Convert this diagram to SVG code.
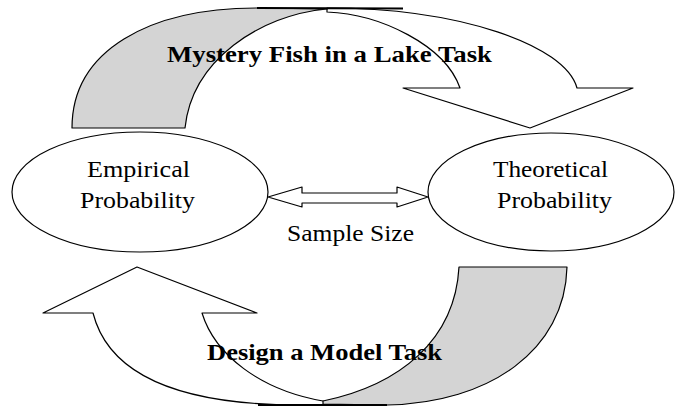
<svg xmlns="http://www.w3.org/2000/svg" width="676" height="408" viewBox="0 0 676 408">
<style>
.shape{stroke:#000;stroke-width:1.2;stroke-linejoin:round}
.white{fill:#fff}
.gray{fill:#d4d4d4}
.edge{stroke:#000;stroke-width:2.2;fill:none}
text{font-family:'Liberation Serif','DejaVu Serif','Times New Roman',serif;fill:#000;text-anchor:middle}
.lbl{font-size:23px;font-weight:normal}
.title{font-size:24px;font-weight:bold}
</style>
<rect width="676" height="408" fill="#fff"/>
<g id="connectors">
  <g id="mystery-arrow">
    <path class="shape white" d="M327,12 C380,14 445,45 460,88 L403,88 L530,128 L633,88 L577,88 C565,45 460,8 327,8 Z"/>
    <path class="shape gray" d="M72,128 C72,50 150,8 257,8 L327,9 C260,15 192,60 185,128 Z"/>
    <line class="edge" x1="257" y1="8" x2="403" y2="8.5"/>
    <text class="title" x="329.5" y="62" textLength="325" lengthAdjust="spacingAndGlyphs">Mystery Fish in a Lake Task</text>
  </g>
  <g id="design-arrow">
    <path class="shape white" d="M93,313 L43,313 L137,267 L257,313 L202,313 C215,355 260,390 323,401 L330,405 L300,405 C190,405 110,380 93,313 Z"/>
    <path class="shape gray" d="M459,267 L567,267 C565,350 490,403 387,405 L323,404 L323,401 C400,385 455,340 459,267 Z"/>
    <line class="edge" x1="258" y1="405" x2="387" y2="405"/>
    <text class="title" x="324.5" y="360" textLength="235" lengthAdjust="spacingAndGlyphs">Design a Model Task</text>
  </g>
  <g id="sample-size">
    <path class="shape white" d="M268,197 L302,187 L302,193 L397,193 L397,187 L428,197 L397,207 L397,203 L302,203 L302,207 Z"/>
    <text class="lbl" x="350.5" y="241" textLength="127" lengthAdjust="spacingAndGlyphs">Sample Size</text>
  </g>
</g>
<g id="empirical">
  <ellipse class="shape white" cx="140" cy="192" rx="128" ry="60"/>
  <text class="lbl" x="138.5" y="177" textLength="103" lengthAdjust="spacingAndGlyphs">Empirical</text>
  <text class="lbl" x="137.5" y="208" textLength="115" lengthAdjust="spacingAndGlyphs">Probability</text>
</g>
<g id="theoretical">
  <ellipse class="shape white" cx="551" cy="192" rx="123" ry="59"/>
  <text class="lbl" x="550.5" y="177" textLength="115" lengthAdjust="spacingAndGlyphs">Theoretical</text>
  <text class="lbl" x="554.5" y="208" textLength="115" lengthAdjust="spacingAndGlyphs">Probability</text>
</g>
</svg>
